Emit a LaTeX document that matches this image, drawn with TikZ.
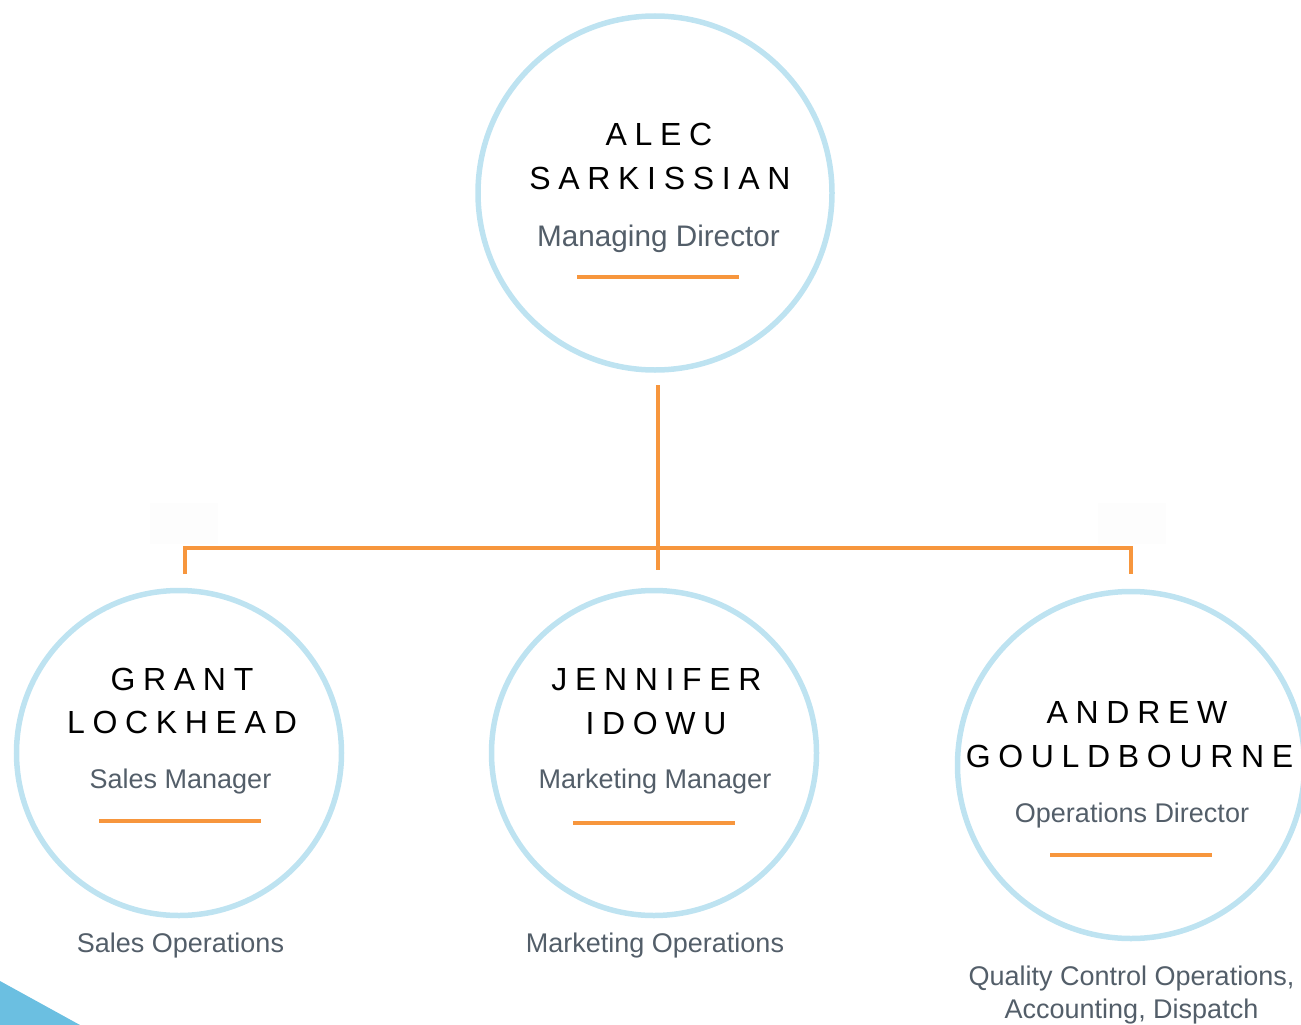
\documentclass[tikz,border=0pt]{standalone}
\usepackage{fontspec}
\setmainfont{Liberation Sans}
\newfontfamily\namefont[LetterSpace=24]{Liberation Sans}
\definecolor{ringblue}{HTML}{BEE3F1}
\definecolor{lineorange}{HTML}{F7963D}
\definecolor{subgray}{HTML}{535E69}
\definecolor{cornerblue}{HTML}{6BBFE1}
\tikzset{
  ring/.style={circle, draw=ringblue, line width=5.5pt, inner sep=0pt},
  nametext/.style={anchor=base, inner sep=0pt, text=black, font=\namefont\fontsize{32}{38}\selectfont},
  roletext/.style={anchor=base, inner sep=0pt, text=subgray, font=\fontsize{27}{32}\selectfont},
  toprole/.style={anchor=base, inner sep=0pt, text=subgray, font=\fontsize{29.7}{35}\selectfont},
  deptext/.style={anchor=base, inner sep=0pt, text=subgray, font=\fontsize{27}{33}\selectfont},
  bar/.style={draw=lineorange, line width=4pt},
  tree/.style={draw=lineorange, line width=3.5pt},
  ghost/.style={fill=black!0.8, draw=none}
}
\begin{document}
\begin{tikzpicture}[x=1pt, y=-1pt]
\useasboundingbox (0,0) rectangle (1301,1025);
% faint placeholders
\fill[ghost] (150,503) rectangle (218,544);
\fill[ghost] (1098,503) rectangle (1166,544);
% corner triangle
\fill[cornerblue] (0,981) -- (80,1025) -- (0,1025) -- cycle;
% circles
\node[ring, minimum size=354pt] (top) at (655,193) {};
\node[ring, minimum size=325pt] (left) at (179,753) {};
\node[ring, minimum size=325pt] (mid) at (654,753) {};
\node[ring, minimum size=347pt] (right) at (1131,765) {};
% top person
\node[nametext] (n1a) at (659,145) {ALEC};
\node[nametext] (n1b) at (660,189) {SARKISSIAN};
\node[toprole] (r1) at (658.5,246) {Managing Director};
\coordinate (u1a) at (577,277); \coordinate (u1b) at (739,277);
\draw[bar] (u1a) -- (u1b);
% left person
\node[nametext] (n2a) at (182,690) {GRANT};
\node[nametext] (n2b) at (182,733) {LOCKHEAD};
\node[roletext] (r2) at (180.5,788) {Sales Manager};
\coordinate (u2a) at (99,821); \coordinate (u2b) at (261,821);
\draw[bar] (u2a) -- (u2b);
\node[deptext] (d2) at (180.5,952) {Sales Operations};
% middle person
\node[nametext] (n3a) at (656.5,690) {JENNIFER};
\node[nametext] (n3b) at (656,734) {IDOWU};
\node[roletext] (r3) at (655,788) {Marketing Manager};
\coordinate (u3a) at (573,823); \coordinate (u3b) at (735,823);
\draw[bar] (u3a) -- (u3b);
\node[deptext] (d3) at (655,952) {Marketing Operations};
% right person
\node[nametext] (n4a) at (1137,723) {ANDREW};
\node[nametext] (n4b) at (1129.5,767) {GOULDBOURNE};
\node[roletext] (r4) at (1132,822) {Operations Director};
\coordinate (u4a) at (1050,855); \coordinate (u4b) at (1212,855);
\draw[bar] (u4a) -- (u4b);
\node[deptext] (d4a) at (1131.5,985) {Quality Control Operations,};
\node[deptext] (d4b) at (1131.5,1018) {Accounting, Dispatch};
% connectors
\coordinate (j0) at (658,385);
\coordinate (j1) at (658,570);
\coordinate (bl) at (185,548);
\coordinate (br) at (1131,548);
\coordinate (tl) at (185,574);
\coordinate (tr) at (1131,574);
\draw[tree] (j0) -- (j1);
\draw[tree] (tl) -- (bl) -- (br) -- (tr);
\end{tikzpicture}
\end{document}
